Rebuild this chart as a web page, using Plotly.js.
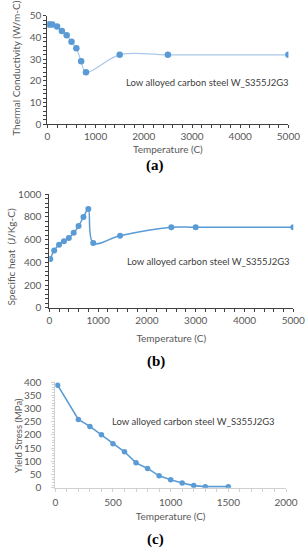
<!DOCTYPE html>
<html>
<head>
<meta charset="utf-8">
<script src="https://cdn.plot.ly/plotly-3.0.1.min.js"></script>
<style>html,body{margin:0;padding:0;background:#fff;}#chart{width:307px;height:550px;}</style>
</head>
<body>
<div id="chart"></div>
<script>
// (a) Thermal conductivity
const tempA = [0, 50, 100, 200, 300, 400, 500, 600, 700, 800, 1500, 2500, 5000];
const condA = [46, 46, 46, 45, 43, 41, 38, 35, 29, 24, 32, 32, 32];
// (b) Specific heat
const tempB = [20, 100, 200, 300, 400, 500, 600, 700, 800, 900, 1450, 2500, 3000, 5000];
const heatB = [430, 505, 555, 585, 615, 660, 720, 800, 870, 570, 635, 710, 710, 710];
// (c) Yield stress
const tempC = [20, 200, 300, 400, 500, 600, 700, 800, 900, 1000, 1100, 1200, 1300, 1500];
const yieldC = [388, 258, 232, 200, 166, 136, 94, 73, 45, 30, 18, 8, 4, 4];

const xTitle = 'Temperature (C)';
const yTitles = ['Thermal Conductivity (W/m-C)', 'Specific heat  (J/Kg-C)', 'Yield Stress (MPa)'];
const captions = ['(a)', '(b)', '(c)'];
const note = 'Low alloyed carbon steel W_S355J2G3';

const W = 307, H = 550;
const px = v => v / W;
const py = v => 1 - v / H;

const blue = '#5b9bd5';
const gray = '#595959';
const font = 'Lato, "Open Sans", sans-serif';
const capFont = '"Liberation Serif", serif';

const traces = [
  {x: tempA, y: condA, xaxis: 'x', yaxis: 'y', mode: 'lines+markers', type: 'scatter',
   line: {color: '#a9c9ea', width: 1.2, shape: 'spline', smoothing: 1},
   marker: {color: blue, size: 6.5}},
  {x: tempB, y: heatB, xaxis: 'x2', yaxis: 'y2', mode: 'lines+markers', type: 'scatter',
   line: {color: blue, width: 1.5, shape: 'spline', smoothing: 1},
   marker: {color: blue, size: 6}},
  {x: tempC, y: yieldC, xaxis: 'x3', yaxis: 'y3', mode: 'lines+markers', type: 'scatter',
   line: {color: blue, width: 1.6},
   marker: {color: blue, size: 5.5}}
];

function ax(extra) {
  return Object.assign({
    showgrid: false, zeroline: false, showline: true, fixedrange: true,
    tickfont: {family: font, size: 10, color: gray},
    ticks: 'outside', ticklen: 3, tickwidth: 1
  }, extra);
}
// inner half of crossing tick marks (overlay axis, no labels)
function inner(base, extra) {
  return Object.assign({
    overlaying: base, showgrid: false, zeroline: false, showline: false, fixedrange: true,
    showticklabels: false, ticks: 'inside', ticklen: 3, tickwidth: 1
  }, extra);
}

const darkLine = '#404040';
const lightLine = '#d0d0d0';
const tf = {family: font, size: 10, color: gray};

const domA = {x: [px(47.4), px(288.4)], y: [py(124.3), py(15.7)]};
const domB = {x: [px(49.3), px(293.3)], y: [py(307.7), py(194.3)]};
const domC = {x: [px(55.3), px(286)], y: [py(487.7), py(382)]};

const layout = {
  width: W, height: H,
  margin: {l: 0, r: 0, t: 0, b: 0},
  paper_bgcolor: '#fff', plot_bgcolor: 'rgba(0,0,0,0)',
  showlegend: false,
  font: {family: font, color: gray},
  xaxis: ax({domain: domA.x, anchor: 'y', range: [0, 5000], dtick: 1000,
    linecolor: darkLine, tickcolor: darkLine,
    minor: {dtick: 200, ticks: 'outside', ticklen: 3, tickcolor: darkLine},
    title: {text: xTitle, font: tf, standoff: 4}}),
  yaxis: ax({domain: domA.y, anchor: 'x', range: [0, 50], dtick: 10,
    linecolor: darkLine, tickcolor: darkLine,
    minor: {dtick: 2, ticks: 'outside', ticklen: 3, tickcolor: darkLine}}),
  xaxis4: inner('x', {domain: domA.x, anchor: 'y', range: [0, 5000], dtick: 1000, tickcolor: darkLine,
    minor: {dtick: 200, ticks: 'inside', ticklen: 3, tickcolor: darkLine}}),
  yaxis4: inner('y', {domain: domA.y, anchor: 'x', range: [0, 50], dtick: 10, tickcolor: darkLine,
    minor: {dtick: 2, ticks: 'inside', ticklen: 3, tickcolor: darkLine}}),

  xaxis2: ax({domain: domB.x, anchor: 'y2', range: [0, 5000], dtick: 1000,
    linecolor: darkLine, tickcolor: darkLine,
    minor: {dtick: 200, ticks: 'outside', ticklen: 3, tickcolor: darkLine},
    title: {text: xTitle, font: tf, standoff: 10}}),
  yaxis2: ax({domain: domB.y, anchor: 'x2', range: [0, 1000], dtick: 200, ticklabelstandoff: 2,
    linecolor: darkLine, tickcolor: darkLine,
    minor: {dtick: 40, ticks: 'outside', ticklen: 3, tickcolor: darkLine}}),
  xaxis5: inner('x2', {domain: domB.x, anchor: 'y2', range: [0, 5000], dtick: 1000, tickcolor: darkLine,
    minor: {dtick: 200, ticks: 'inside', ticklen: 3, tickcolor: darkLine}}),
  yaxis5: inner('y2', {domain: domB.y, anchor: 'x2', range: [0, 1000], dtick: 200, tickcolor: darkLine,
    minor: {dtick: 40, ticks: 'inside', ticklen: 3, tickcolor: darkLine}}),

  xaxis3: ax({domain: domC.x, anchor: 'y3', range: [0, 2000], dtick: 500, ticklabelstandoff: 2,
    linecolor: lightLine, tickcolor: lightLine,
    minor: {dtick: 100, ticks: 'outside', ticklen: 3, tickcolor: lightLine},
    title: {text: xTitle, font: tf, standoff: 6}}),
  yaxis3: ax({domain: domC.y, anchor: 'x3', range: [0, 400], dtick: 50, ticklabelstandoff: 8,
    linecolor: lightLine, tickcolor: lightLine,
    minor: {dtick: 10, ticks: 'outside', ticklen: 2, tickcolor: lightLine}}),

  annotations: [
    {text: yTitles[0], textangle: -90, xref: 'paper', yref: 'paper', x: px(15.7), y: py(68), showarrow: false,
     xanchor: 'center', yanchor: 'middle', font: tf},
    {text: yTitles[1], textangle: -90, xref: 'paper', yref: 'paper', x: px(10.5), y: py(257), showarrow: false,
     xanchor: 'center', yanchor: 'middle', font: tf},
    {text: yTitles[2], textangle: -90, xref: 'paper', yref: 'paper', x: px(18), y: py(436), showarrow: false,
     xanchor: 'center', yanchor: 'middle', font: {family: font, size: 9.5, color: gray}},
    {text: note, xref: 'paper', yref: 'paper', x: px(207), y: py(82.3), showarrow: false,
     xanchor: 'center', yanchor: 'middle', font: {family: font, size: 9.5, color: '#404040'}},
    {text: note, xref: 'paper', yref: 'paper', x: px(208), y: py(261.7), showarrow: false,
     xanchor: 'center', yanchor: 'middle', font: {family: font, size: 9.5, color: '#404040'}},
    {text: note, xref: 'paper', yref: 'paper', x: px(194), y: py(421.7), showarrow: false,
     xanchor: 'center', yanchor: 'middle', font: {family: font, size: 9.5, color: '#404040'}},
    {text: '<b>' + captions[0] + '</b>', xref: 'paper', yref: 'paper', x: px(155), y: py(165), showarrow: false,
     xanchor: 'center', yanchor: 'middle', font: {family: capFont, size: 15, color: '#000'}},
    {text: '<b>' + captions[1] + '</b>', xref: 'paper', yref: 'paper', x: px(155.7), y: py(361), showarrow: false,
     xanchor: 'center', yanchor: 'middle', font: {family: capFont, size: 15, color: '#000'}},
    {text: '<b>' + captions[2] + '</b>', xref: 'paper', yref: 'paper', x: px(155), y: py(539), showarrow: false,
     xanchor: 'center', yanchor: 'middle', font: {family: capFont, size: 15, color: '#000'}}
  ]
};

Plotly.newPlot('chart', traces, layout, {staticPlot: true, displayModeBar: false});
</script>
</body>
</html>
